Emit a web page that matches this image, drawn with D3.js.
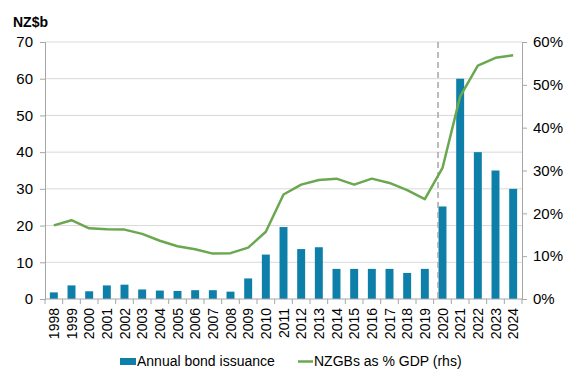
<!DOCTYPE html>
<html>
<head>
<meta charset="utf-8">
<script src="https://cdn.jsdelivr.net/npm/d3@7"></script>
<style>
  body { margin: 0; background: #fff; }
  #chart { width: 574px; height: 382px; }
  text { font-family: "Liberation Sans", Arial, sans-serif; fill: #000; }
</style>
</head>
<body>
<div id="chart"></div>
<script>
const years = ["1998","1999","2000","2001","2002","2003","2004","2005","2006","2007","2008","2009","2010","2011","2012","2013","2014","2015","2016","2017","2018","2019","2020","2021","2022","2023","2024"];
const issuance = [1.8, 3.7, 2.1, 3.7, 3.9, 2.6, 2.3, 2.2, 2.4, 2.4, 2.0, 5.6, 12.1, 19.6, 13.6, 14.1, 8.2, 8.2, 8.2, 8.2, 7.1, 8.2, 25.2, 60, 40, 35, 30];
const gdpShare = [17.2, 18.4, 16.5, 16.3, 16.2, 15.2, 13.6, 12.3, 11.6, 10.6, 10.7, 12.0, 15.7, 24.4, 26.7, 27.8, 28.1, 26.7, 28.1, 27.1, 25.4, 23.3, 30.6, 47.3, 54.5, 56.3, 56.9];
const leftTicks = [0, 10, 20, 30, 40, 50, 60, 70];
const rightTicks = [0, 10, 20, 30, 40, 50, 60];
const markerYear = "2020";

const margin = { left: 45, right: 52, top: 42, bottom: 83 };
const width = 574, height = 382;
const innerWidth = width - margin.left - margin.right;
const innerHeight = height - margin.top - margin.bottom;

const svg = d3.select("#chart").append("svg")
  .attr("width", width).attr("height", height);

const g = svg.append("g").attr("transform", `translate(${margin.left},${margin.top})`);

const x = d3.scaleBand().domain(years).range([0, innerWidth]).paddingInner(0.55).paddingOuter(0.275);
const xb = d3.scaleBand().domain(years).range([0, innerWidth]);
const yL = d3.scaleLinear().domain([0, 70]).range([innerHeight, 0]);
const yR = d3.scaleLinear().domain([0, 60]).range([innerHeight, 0]);

// gridlines
g.append("g").selectAll("line").data(leftTicks.slice(1)).join("line")
  .attr("x1", 0).attr("x2", innerWidth)
  .attr("y1", d => yL(d)).attr("y2", d => yL(d))
  .attr("stroke", "#d9d9d9").attr("stroke-width", 1);

// bars
g.append("g").selectAll("rect").data(years).join("rect")
  .attr("x", (d) => x(d))
  .attr("width", x.bandwidth())
  .attr("y", (d, i) => yL(issuance[i]))
  .attr("height", (d, i) => innerHeight - yL(issuance[i]))
  .attr("fill", "#0e7fa8");

// dashed marker
const mx = x(markerYear) - 0.5;
g.append("line")
  .attr("x1", mx).attr("x2", mx)
  .attr("y1", 0).attr("y2", innerHeight)
  .attr("stroke", "#a6a6a6").attr("stroke-width", 1.5)
  .attr("stroke-dasharray", "6,4");

// line
const line = d3.line()
  .x((d, i) => xb(years[i]) + xb.bandwidth() / 2)
  .y(d => yR(d));
g.append("path").datum(gdpShare)
  .attr("d", line)
  .attr("fill", "none")
  .attr("stroke", "#6aa84f")
  .attr("stroke-width", 2.5)
  .attr("stroke-linejoin", "round");

// axes
const leftAxis = d3.axisLeft(yL).tickValues(leftTicks).tickSize(5).tickPadding(7);
const rightAxis = d3.axisRight(yR).tickValues(rightTicks).tickSize(5).tickPadding(6)
  .tickFormat(d => d + "%");

const la = g.append("g").call(leftAxis);
const ra = g.append("g").attr("transform", `translate(${innerWidth},0)`).call(rightAxis);

[la, ra].forEach(a => {
  a.select(".domain").attr("stroke", "#a6a6a6");
  a.selectAll(".tick line").attr("stroke", "#a6a6a6");
  a.selectAll(".tick text").attr("font-size", "15px")
    .attr("font-family", "Liberation Sans, Arial, sans-serif").attr("fill", "#000");
});

// x axis
const xa = g.append("g").attr("transform", `translate(0,${innerHeight})`);
xa.append("line").attr("x1", 0).attr("x2", innerWidth)
  .attr("stroke", "#a6a6a6");
xa.selectAll(".sep").data(d3.range(years.length + 1)).join("line")
  .attr("class", "sep")
  .attr("x1", d => d * xb.step()).attr("x2", d => d * xb.step())
  .attr("y1", 0).attr("y2", 5)
  .attr("stroke", "#a6a6a6");
xa.selectAll("text").data(years).join("text")
  .attr("transform", d => `translate(${xb(d) + xb.bandwidth() / 2 + 5},9) rotate(-90)`)
  .attr("text-anchor", "end")
  .attr("font-size", "14px")
  .text(d => d);

// unit label
svg.append("text")
  .attr("x", 13).attr("y", 27)
  .attr("font-size", "14px").attr("font-weight", "bold")
  .text("NZ$b");

// legend
const leg = svg.append("g");
leg.append("rect").attr("x", 120).attr("y", 358).attr("width", 16).attr("height", 7).attr("fill", "#0e7fa8");
leg.append("text").attr("x", 137).attr("y", 366).attr("font-size", "14px").text("Annual bond issuance");
leg.append("line").attr("x1", 298).attr("x2", 313).attr("y1", 361.5).attr("y2", 361.5)
  .attr("stroke", "#6aa84f").attr("stroke-width", 2.5);
leg.append("text").attr("x", 314).attr("y", 366).attr("font-size", "14px").text("NZGBs as % GDP (rhs)");
</script>
</body>
</html>
